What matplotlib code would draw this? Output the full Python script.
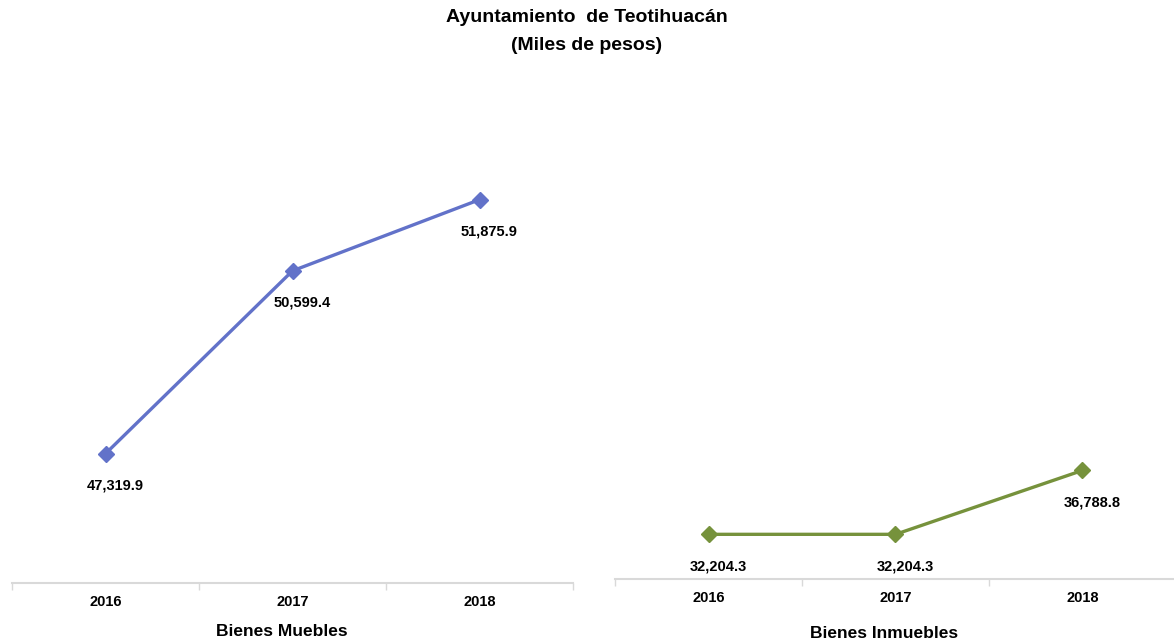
import matplotlib
matplotlib.use('Agg')
import matplotlib.pyplot as plt

years = ['2016', '2017', '2018']
muebles = [47319.9, 50599.4, 51875.9]
inmuebles = [32204.3, 32204.3, 36788.8]

plt.rcParams['font.family'] = 'Liberation Sans'
plt.rcParams['font.weight'] = 'bold'

fig = plt.figure(figsize=(11.74, 6.42), dpi=100)
W, H = 1174, 642

fig.text(587 / W, 1 - 18 / H, 'Ayuntamiento  de Teotihuacán', ha='center', va='center',
         fontsize=14, fontweight='bold')
fig.text(587 / W, 1 - 45 / H, '(Miles de pesos)', ha='center', va='center',
         fontsize=14, fontweight='bold')

panels = [
    dict(vals=muebles, color='#6272C9', rect=[12 / W, 59 / H, 561 / W, 446 / H],
         ylim=(45000, 53000), title='Bienes Muebles', tx=282, ty=632),
    dict(vals=inmuebles, color='#76923C', rect=[615 / W, 63 / H, 561 / W, 442 / H],
         ylim=(29000, 60700), title='Bienes Inmuebles', tx=884, ty=633),
]

for p in panels:
    ax = fig.add_axes(p['rect'])
    x = range(len(years))
    ax.plot(x, p['vals'], color=p['color'], lw=2.4, marker='D', ms=8,
            markeredgecolor=p['color'], clip_on=False)
    for i, v in enumerate(p['vals']):
        ax.annotate(f'{v:,.1f}', (i, v), xytext=(7, -23), textcoords='offset points',
                    ha='center', va='center', fontsize=10.5, fontweight='bold')
    ax.set_xlim(-0.5, 2.5)
    ax.set_ylim(*p['ylim'])
    for s in ['top', 'right', 'left']:
        ax.spines[s].set_visible(False)
    ax.spines['bottom'].set_color('#D9D9D9')
    ax.spines['bottom'].set_linewidth(1.5)
    ax.set_yticks([])
    ax.set_xticks(list(x))
    ax.set_xticklabels(years, fontsize=10.5, fontweight='bold')
    ax.tick_params(axis='x', length=0, pad=9)
    ax.set_xticks([-0.5, 0.5, 1.5, 2.5], minor=True)
    ax.tick_params(axis='x', which='minor', length=5, color='#D9D9D9', width=1)
    fig.text(p['tx'] / W, 1 - p['ty'] / H, p['title'], ha='center', va='center',
             fontsize=12.5, fontweight='bold')

fig.savefig('out.png', dpi=100)
